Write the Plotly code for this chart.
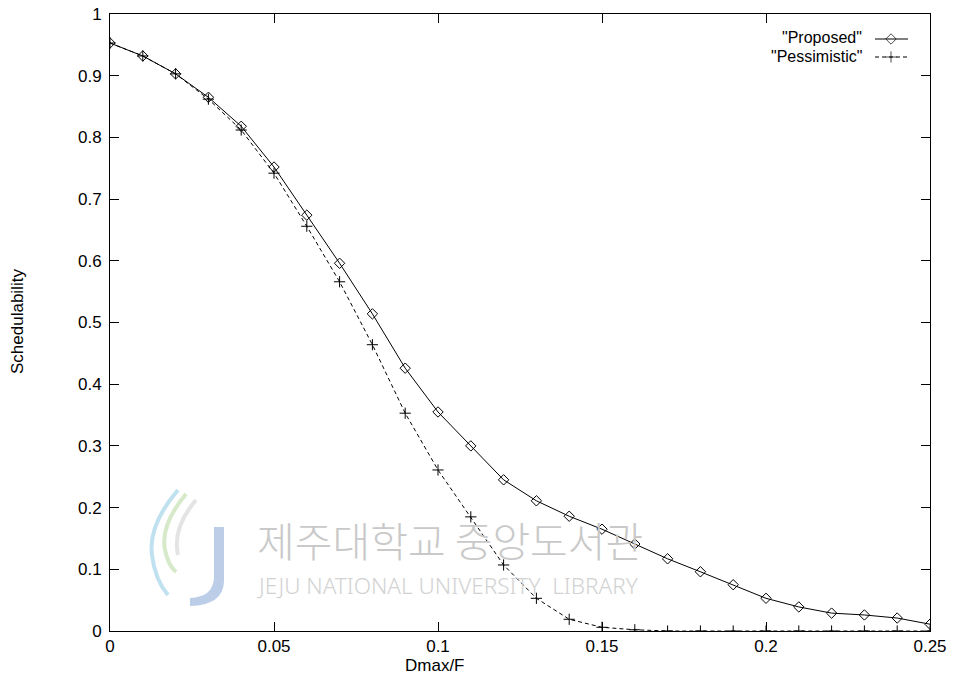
import plotly.graph_objects as go

x_vals = [0.00, 0.01, 0.02, 0.03, 0.04, 0.05, 0.06, 0.07, 0.08, 0.09, 0.10, 0.11, 0.12,
          0.13, 0.14, 0.15, 0.16, 0.17, 0.18, 0.19, 0.20, 0.21, 0.22, 0.23, 0.24, 0.25]
proposed = [0.953, 0.932, 0.903, 0.865, 0.818, 0.752, 0.674, 0.596, 0.514, 0.426, 0.355,
            0.300, 0.245, 0.211, 0.186, 0.165, 0.141, 0.117, 0.096, 0.075, 0.053, 0.039,
            0.029, 0.026, 0.021, 0.011]
pessimistic = [0.953, 0.932, 0.903, 0.862, 0.812, 0.742, 0.656, 0.566, 0.464, 0.353, 0.261,
               0.185, 0.107, 0.053, 0.019, 0.006, 0.002, 0.0, 0.0, 0.0, 0.0, 0.0, 0.0, 0.0,
               0.0, 0.0]
series_names = ['"Proposed"', '"Pessimistic"']
x_ticks = [0, 0.05, 0.1, 0.15, 0.2, 0.25]
x_tick_labels = ["0", "0.05", "0.1", "0.15", "0.2", "0.25"]
y_ticks = [0, 0.1, 0.2, 0.3, 0.4, 0.5, 0.6, 0.7, 0.8, 0.9, 1]
y_tick_labels = ["0", "0.1", "0.2", "0.3", "0.4", "0.5", "0.6", "0.7", "0.8", "0.9", "1"]

FONT = "Liberation Sans, Arial, Helvetica, sans-serif"
FS = 17
KEY_FS = 16

W, H = 954, 676
ML, MR, MT, MB = 110, 24, 14, 45
PW, PH = W - ML - MR, H - MT - MB


def px(x):  # page pixel -> paper x
    return (x - ML) / PW


def py(y):  # page pixel -> paper y
    return (H - MB - y) / PH


fig = go.Figure()

# ---- library watermark (background decoration) ----
def path(pts, close=False):
    s = ""
    for cmd, coords in pts:
        s += cmd + " " + " ".join(f"{px(a):.4f},{py(b):.4f}" for a, b in coords) + " "
    if close:
        s += "Z"
    return s

fig.add_shape(type="path", xref="paper", yref="paper", layer="below",
              path=path([("M", [(214, 527)]), ("L", [(224, 527)]), ("L", [(224, 582)]),
                         ("Q", [(223, 605), (190, 606)]), ("L", [(190, 598)]),
                         ("Q", [(213, 597), (214, 578)])], close=True),
              fillcolor="#bccde8", line=dict(width=0))
fig.add_shape(type="path", xref="paper", yref="paper", layer="below",
              path=path([("M", [(178, 490)]), ("Q", [(148, 525), (152, 555)]),
                         ("Q", [(155, 580), (168, 595)])]),
              line=dict(color="#bfe1f0", width=4))
fig.add_shape(type="path", xref="paper", yref="paper", layer="below",
              path=path([("M", [(186, 494)]), ("Q", [(160, 525), (165, 550)]),
                         ("Q", [(168, 565), (176, 572)])]),
              line=dict(color="#d6e9c9", width=4))
fig.add_shape(type="path", xref="paper", yref="paper", layer="below",
              path=path([("M", [(196, 500)]), ("Q", [(172, 528), (178, 555)])]),
              line=dict(color="#e4e4e4", width=4))

fig.add_annotation(xref="paper", yref="paper", x=px(255), y=py(539), xanchor="left",
                   yanchor="middle", text="제주대학교 중앙도서관", showarrow=False,
                   font=dict(family="Noto Sans CJK KR", size=41, color="#c9c9c9", weight=300))
fig.add_annotation(xref="paper", yref="paper", x=px(255), y=py(585), xanchor="left",
                   yanchor="middle", text="JEJU NATIONAL UNIVERSITY  LIBRARY", showarrow=False,
                   font=dict(family="Noto Sans", size=22.5, color="#d2d2d2", weight=300))

# ---- data ----
fig.add_trace(go.Scatter(
    x=x_vals, y=proposed, mode="lines+markers", name=series_names[0],
    line=dict(color="black", width=1),
    marker=dict(symbol="diamond-open", size=8, color="black", line=dict(width=1)),
    showlegend=False))
fig.add_trace(go.Scatter(
    x=x_vals, y=pessimistic, mode="lines+markers", name=series_names[1],
    line=dict(color="black", width=1, dash="4px,3px"),
    marker=dict(symbol="cross-thin-open", size=8, color="black",
                line=dict(width=1, color="black")),
    showlegend=False))

# ---- gnuplot-style key: text right-aligned, sample to the right ----
key_text_y = [py(37.5), py(56.5)]
key_line_y = [py(39), py(57)]
styles = [dict(dash="solid", sym="diamond-open"), dict(dash="4px,3px", sym="cross-thin-open")]
for i, nm in enumerate(series_names):
    fig.add_annotation(xref="paper", yref="paper", x=px(863), y=key_text_y[i], xanchor="right",
                       yanchor="middle", text=nm, showarrow=False,
                       borderpad=0,
                       font=dict(family=FONT, size=KEY_FS, color="black"))
    fig.add_trace(go.Scatter(
        x=[px(875), px(891), px(908)], y=[key_line_y[i]] * 3, xaxis="x2", yaxis="y2",
        mode="lines+markers", showlegend=False, hoverinfo="skip",
        line=dict(color="black", width=1, dash=styles[i]["dash"]),
        marker=dict(symbol=styles[i]["sym"], size=[0, 8, 0], color="black",
                    line=dict(width=1, color="black"))))

# ---- axis titles ----
fig.add_annotation(xref="paper", yref="paper", x=px(17), y=py(322), text="Schedulability",
                   textangle=-90, showarrow=False, xanchor="center", yanchor="middle",
                   font=dict(family=FONT, size=FS, color="black"))
fig.add_annotation(xref="paper", yref="paper", x=px(435), y=py(665), text="Dmax/F",
                   showarrow=False, xanchor="center", yanchor="middle", height=14,
                   borderpad=0,
                   font=dict(family=FONT, size=FS, color="black"))

fig.update_layout(
    width=W, height=H,
    margin=dict(l=ML, r=MR, t=MT, b=MB, autoexpand=False),
    paper_bgcolor="white", plot_bgcolor="white",
    font=dict(family=FONT, size=FS, color="black"),
    xaxis=dict(range=[0, 0.25], tickvals=x_ticks, ticktext=x_tick_labels,
               showgrid=False, zeroline=False, showline=True, linecolor="black", linewidth=1,
               mirror="ticks", ticks="inside", ticklen=9, tickcolor="black",
               ticklabelstandoff=0, automargin=False, ticklabeloverflow="allow"),
    yaxis=dict(range=[0, 1], tickvals=y_ticks, ticktext=y_tick_labels,
               showgrid=False, zeroline=False, showline=True, linecolor="black", linewidth=1,
               mirror="ticks", ticks="inside", ticklen=9, tickcolor="black",
               ticklabelstandoff=4, automargin=False, ticklabeloverflow="allow"),
    xaxis2=dict(range=[0, 1], overlaying="x", visible=False, fixedrange=True),
    yaxis2=dict(range=[0, 1], overlaying="y", visible=False, fixedrange=True),
)

fig.write_html("out.html", config={"displayModeBar": False},
               post_script="document.body.style.margin='0';document.body.style.overflow='hidden';")
